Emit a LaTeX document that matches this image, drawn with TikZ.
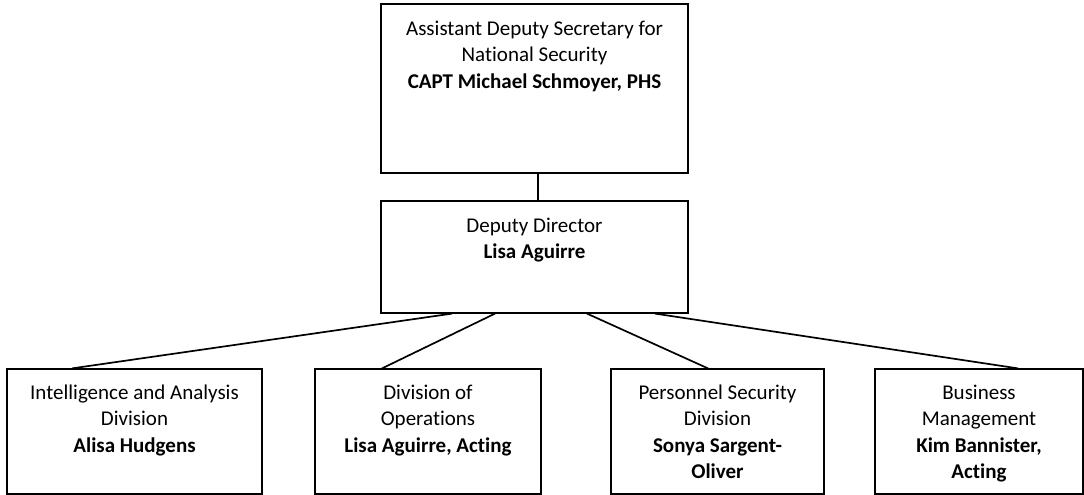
\documentclass[tikz,border=0pt]{standalone}
\usepackage{fontspec}
\setmainfont[Ligatures=NoCommon]{Carlito}
\usetikzlibrary{positioning}

\begin{document}
\begin{tikzpicture}[
        x=1pt, y=-1pt,
        box/.style={rectangle, draw, line width=1.2pt, inner sep=0pt},
        txt/.style={align=center, inner sep=0pt, anchor=base, font=\fontsize{21}{26.5}\selectfont},
        link/.style={line width=1.7pt}
    ]
        \useasboundingbox (0,0) rectangle (1084,495);

        % Leadership (text anchored at the baseline of its last line)
        \node[box, minimum width=307pt, minimum height=169pt] (asec) at (534.5,88.5) {};
        \node[txt] (asectxt) at ([yshift=-85]asec.north) {Assistant Deputy Secretary for\\National Security\\\textbf{CAPT Michael Schmoyer, PHS}};

        \node[box, minimum width=307pt, minimum height=112pt] (dep) at (534.5,257) {};
        \node[txt] (deptxt) at ([yshift=-58.5]dep.north) {Deputy Director\\\textbf{Lisa Aguirre}};

        % Divisions
        \node[box, minimum width=255pt, minimum height=125pt] (intel) at (134.5,431.5) {};
        \node[txt] (inteltxt) at ([yshift=-84]intel.north) {Intelligence and Analysis\\Division\\\textbf{Alisa Hudgens}};

        \node[box, minimum width=226pt, minimum height=125pt] (ops) at (428,431.5) {};
        \node[txt] (opstxt) at ([yshift=-84]ops.north) {Division of\\Operations\\\textbf{Lisa Aguirre, Acting}};

        \node[box, minimum width=213pt, minimum height=125pt] (psd) at (717.5,431.5) {};
        \node[txt] (psdtxt) at ([yshift=-110.5]psd.north) {Personnel Security\\Division\\\textbf{Sonya Sargent-}\\\textbf{Oliver}};

        \node[box, minimum width=208pt, minimum height=125pt] (bm) at (979,431.5) {};
        \node[txt] (bmtxt) at ([yshift=-110.5]bm.north) {Business\\Management\\\textbf{Kim Bannister,}\\\textbf{Acting}};

        % Lines
        \draw[link] ([xshift=3.5]asec.south) -- ([xshift=3.5]dep.north);
        \draw[link] ([xshift=-82.5]dep.south) -- ([xshift=-62.5]intel.north);
        \draw[link] ([xshift=-39.5]dep.south) -- ([xshift=-46]ops.north);
        \draw[link] ([xshift=52.5]dep.south) -- ([xshift=-9.5]psd.north);
        \draw[link] ([xshift=120.5]dep.south) -- ([xshift=39]bm.north);

    \end{tikzpicture}
\end{document}
